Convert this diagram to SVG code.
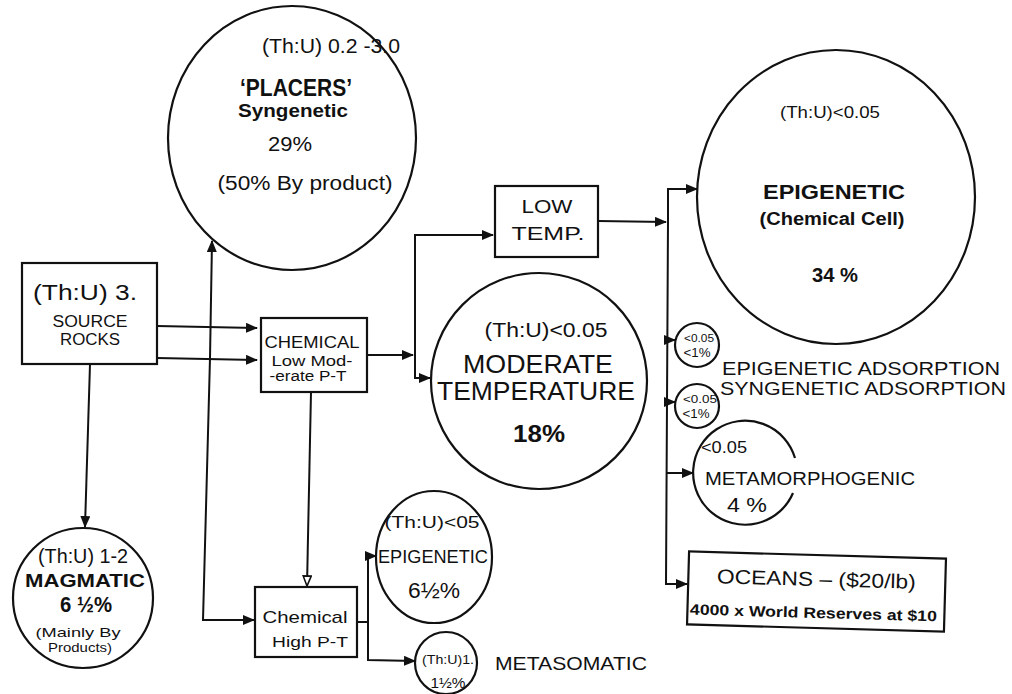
<svg xmlns="http://www.w3.org/2000/svg" width="1012" height="694" viewBox="0 0 1012 694">
<style>
text{font-family:"Liberation Sans",Arial,sans-serif;fill:#111;text-anchor:middle}
.b{font-weight:bold}
.n{fill:#fff;stroke:#111;stroke-width:2.2}
.o{fill:none;stroke:#111;stroke-width:2.2}
.c path{fill:none;stroke:#111;stroke-width:2}
</style>
<defs>
<marker id="a" markerUnits="userSpaceOnUse" markerWidth="12" markerHeight="10" refX="11" refY="5" orient="auto"><path d="M0,0 L12,5 L0,10 Z" fill="#111"/></marker>
<marker id="h" markerUnits="userSpaceOnUse" markerWidth="12" markerHeight="10" refX="11" refY="5" orient="auto"><path d="M1,1 L11,5 L1,9 Z" fill="#fff" stroke="#111" stroke-width="1.6"/></marker>
</defs>
<rect width="1012" height="694" fill="#fff"/>
<g class="c" id="connectors">
<path d="M157 326 L257 328" marker-end="url(#a)"/>
<path d="M157 358 L257 360" marker-end="url(#a)"/>
<path d="M210 358 L212 241" marker-end="url(#a)"/>
<path d="M210 358 L203 620 L254 620" marker-end="url(#a)"/>
<path d="M90 364 L85 527" marker-end="url(#a)"/>
<path d="M367 355 L413 355" marker-end="url(#a)"/>
<path d="M415 355 L415 378 L430 378" marker-end="url(#a)"/>
<path d="M415 355 L415 235 L493 235" marker-end="url(#a)"/>
<path d="M311 392 L307 586" marker-end="url(#h)"/>
<path d="M598 221 L666 222" marker-end="url(#a)"/>
<path d="M668 222 L668 189 L697 189" marker-end="url(#a)"/>
<path d="M668 222 L666 584 L687 584" marker-end="url(#a)"/>
<path d="M668 340 L675 340" marker-end="url(#a)"/>
<path d="M667 402 L675 402" marker-end="url(#a)"/>
<path d="M667 473 L693 473" marker-end="url(#a)"/>
<path d="M357 622 L368 622 L368 556 L376 556" marker-end="url(#a)"/>
<path d="M368 622 L368 660 L415 661" marker-end="url(#a)"/>
</g>
<g id="placers">
<ellipse class="n" cx="292" cy="138" rx="124" ry="132"/>
<text x="331" y="53" font-size="20" textLength="138" lengthAdjust="spacingAndGlyphs">(Th:U) 0.2 -3.0</text>
<text class="b" x="296" y="96" font-size="23" textLength="112" lengthAdjust="spacingAndGlyphs">‘PLACERS’</text>
<text class="b" x="293" y="117" font-size="18" textLength="110" lengthAdjust="spacingAndGlyphs">Syngenetic</text>
<text x="290" y="151" font-size="20" textLength="44" lengthAdjust="spacingAndGlyphs">29%</text>
<text x="305" y="190" font-size="20" textLength="175" lengthAdjust="spacingAndGlyphs">(50% By product)</text>
</g>
<g id="source">
<rect class="n" x="22" y="263" width="135" height="101"/>
<text x="85" y="300" font-size="22" textLength="104" lengthAdjust="spacingAndGlyphs">(Th:U) 3.</text>
<text x="90" y="327" font-size="16" textLength="75" lengthAdjust="spacingAndGlyphs">SOURCE</text>
<text x="90" y="345" font-size="16" textLength="60" lengthAdjust="spacingAndGlyphs">ROCKS</text>
</g>
<g id="chem-low">
<rect class="n" x="261" y="318" width="106" height="74"/>
<text x="312" y="348" font-size="17" textLength="95" lengthAdjust="spacingAndGlyphs">CHEMICAL</text>
<text x="312" y="366" font-size="14" textLength="81" lengthAdjust="spacingAndGlyphs">Low Mod-</text>
<text x="308" y="381" font-size="14" textLength="77" lengthAdjust="spacingAndGlyphs">-erate P-T</text>
</g>
<g id="lowtemp">
<rect class="n" x="495" y="186" width="103" height="71"/>
<text x="547" y="213" font-size="18" textLength="51" lengthAdjust="spacingAndGlyphs">LOW</text>
<text x="548" y="240" font-size="18" textLength="73" lengthAdjust="spacingAndGlyphs">TEMP.</text>
</g>
<g id="moderate">
<circle class="n" cx="539" cy="381" r="108"/>
<text x="546" y="337" font-size="20" textLength="123" lengthAdjust="spacingAndGlyphs">(Th:U)&lt;0.05</text>
<text x="538" y="373" font-size="25" textLength="150" lengthAdjust="spacingAndGlyphs">MODERATE</text>
<text x="536" y="400" font-size="25" textLength="198" lengthAdjust="spacingAndGlyphs">TEMPERATURE</text>
<text class="b" x="539" y="442" font-size="24" textLength="52" lengthAdjust="spacingAndGlyphs">18%</text>
</g>
<g id="epigenetic-main">
<ellipse class="n" cx="836" cy="197" rx="139" ry="147"/>
<text x="830" y="118" font-size="17" textLength="100" lengthAdjust="spacingAndGlyphs">(Th:U)&lt;0.05</text>
<text class="b" x="834" y="199" font-size="21" textLength="142" lengthAdjust="spacingAndGlyphs">EPIGENETIC</text>
<text class="b" x="832" y="225" font-size="18" textLength="145" lengthAdjust="spacingAndGlyphs">(Chemical Cell)</text>
<text class="b" x="835" y="282" font-size="20" textLength="46" lengthAdjust="spacingAndGlyphs">34 %</text>
</g>
<g id="epi-adsorption">
<circle class="n" cx="697" cy="345" r="22"/>
<text x="699" y="342" font-size="10" textLength="30" lengthAdjust="spacingAndGlyphs">&lt;0.05</text>
<text x="697" y="357" font-size="13" textLength="27" lengthAdjust="spacingAndGlyphs">&lt;1%</text>
<text x="861" y="375" font-size="19" textLength="278" lengthAdjust="spacingAndGlyphs">EPIGENETIC ADSORPTION</text>
</g>
<g id="syn-adsorption">
<circle class="n" cx="697" cy="406" r="22"/>
<text x="700" y="403" font-size="11" textLength="34" lengthAdjust="spacingAndGlyphs">&lt;0.05</text>
<text x="696" y="418" font-size="13" textLength="27" lengthAdjust="spacingAndGlyphs">&lt;1%</text>
<text x="863" y="395" font-size="19" textLength="286" lengthAdjust="spacingAndGlyphs">SYNGENETIC ADSORPTION</text>
</g>
<g id="metamorphogenic">
<path class="o" d="M795 458 A52 52 0 1 0 793 493"/>
<text x="724" y="453" font-size="16" textLength="46" lengthAdjust="spacingAndGlyphs">&lt;0.05</text>
<text x="810" y="485" font-size="18" textLength="210" lengthAdjust="spacingAndGlyphs">METAMORPHOGENIC</text>
<text x="747" y="512" font-size="20" textLength="40" lengthAdjust="spacingAndGlyphs">4 %</text>
</g>
<g id="oceans" transform="rotate(1.6 816 592)">
<rect class="n" x="688" y="555" width="257" height="73"/>
<text x="816" y="586" font-size="20" textLength="199" lengthAdjust="spacingAndGlyphs">OCEANS – ($20/lb)</text>
<text class="b" x="814" y="618" font-size="15" textLength="247" lengthAdjust="spacingAndGlyphs">4000 x World Reserves at $10</text>
</g>
<g id="magmatic">
<circle class="n" cx="83" cy="598" r="70"/>
<text x="83" y="563" font-size="20" textLength="90" lengthAdjust="spacingAndGlyphs">(Th:U) 1-2</text>
<text class="b" x="85" y="587" font-size="18" textLength="120" lengthAdjust="spacingAndGlyphs">MAGMATIC</text>
<text class="b" x="86" y="612" font-size="22" textLength="52" lengthAdjust="spacingAndGlyphs">6 ½%</text>
<text x="78" y="637" font-size="13" textLength="85" lengthAdjust="spacingAndGlyphs">(Mainly By</text>
<text x="80" y="652" font-size="13" textLength="64" lengthAdjust="spacingAndGlyphs">Products)</text>
</g>
<g id="chem-high">
<rect class="n" x="255" y="587" width="102" height="70"/>
<text x="305" y="623" font-size="17" textLength="85" lengthAdjust="spacingAndGlyphs">Chemical</text>
<text x="310" y="647" font-size="15" textLength="76" lengthAdjust="spacingAndGlyphs">High P-T</text>
</g>
<g id="epigenetic-low">
<ellipse class="n" cx="434" cy="557" rx="58" ry="66"/>
<text x="432" y="528" font-size="17" textLength="95" lengthAdjust="spacingAndGlyphs">(Th:U)&lt;05</text>
<text x="433" y="563" font-size="18" textLength="110" lengthAdjust="spacingAndGlyphs">EPIGENETIC</text>
<text x="434" y="598" font-size="22" textLength="52" lengthAdjust="spacingAndGlyphs">6½%</text>
</g>
<g id="metasomatic">
<circle class="n" cx="446" cy="663" r="31"/>
<text x="448" y="664" font-size="12" textLength="52" lengthAdjust="spacingAndGlyphs">(Th:U)1.</text>
<text x="448" y="688" font-size="14" textLength="35" lengthAdjust="spacingAndGlyphs">1½%</text>
<text x="571" y="670" font-size="18" textLength="152" lengthAdjust="spacingAndGlyphs">METASOMATIC</text>
</g>
</svg>
